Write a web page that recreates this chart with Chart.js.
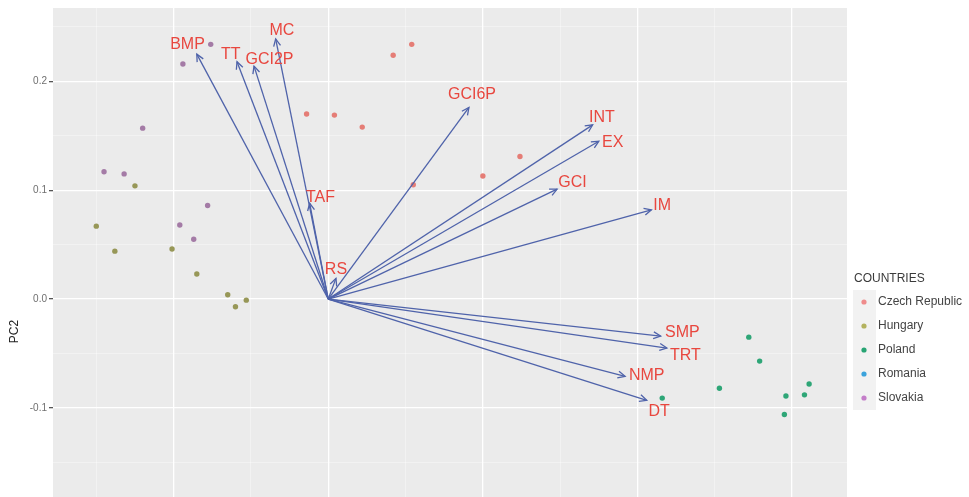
<!DOCTYPE html>
<html>
<head>
<meta charset="utf-8">
<script src="https://cdn.jsdelivr.net/npm/chart.js@4.4.1/dist/chart.umd.min.js"></script>
<style>
  body { margin: 0; background: #fff; }
  #wrap { width: 969px; height: 497px; overflow: hidden; }
</style>
</head>
<body>
<div id="wrap"><canvas id="chart" width="969" height="690"></canvas></div>
<script>
// countries (legend order) and their colours
const countries = ['Czech Republic', 'Hungary', 'Poland', 'Romania', 'Slovakia'];
const pointColors = ['#e57d76', '#979757', '#2ea677', '#2aa6d8', '#a47ba6'];
const keyColors = ['#ef8c8c', '#b3b25e', '#27a473', '#3ba3dc', '#c47ec9'];

// PC scores per country
const czechPC1 = [0.054, 0.042, -0.014, 0.004, 0.022, 0.124, 0.100, 0.055];
const czechPC2 = [0.234, 0.224, 0.170, 0.169, 0.158, 0.131, 0.113, 0.105];
const hungaryPC1 = [-0.125, -0.150, -0.138, -0.101, -0.085, -0.065, -0.053, -0.060];
const hungaryPC2 = [0.104, 0.067, 0.044, 0.046, 0.023, 0.004, -0.001, -0.007];
const polandPC1 = [0.272, 0.279, 0.253, 0.311, 0.308, 0.296, 0.295, 0.216];
const polandPC2 = [-0.035, -0.057, -0.082, -0.078, -0.088, -0.089, -0.106, -0.091];
const romaniaPC1 = [];
const romaniaPC2 = [];
const slovakiaPC1 = [-0.076, -0.094, -0.120, -0.145, -0.132, -0.078, -0.096, -0.087];
const slovakiaPC2 = [0.234, 0.216, 0.157, 0.117, 0.115, 0.086, 0.068, 0.055];

// variable loadings (arrow tips) and label positions
const varNames = ['BMP', 'TT', 'GCI2P', 'MC', 'TAF', 'RS', 'GCI6P', 'INT', 'EX', 'GCI', 'IM', 'SMP', 'TRT', 'NMP', 'DT'];
const loadPC1 = [-0.085, -0.059, -0.048, -0.034, -0.012, 0.005, 0.091, 0.171, 0.175, 0.148, 0.209, 0.215, 0.219, 0.192, 0.206];
const loadPC2 = [0.225, 0.218, 0.214, 0.239, 0.088, 0.019, 0.176, 0.160, 0.145, 0.101, 0.082, -0.034, -0.045, -0.071, -0.093];
const labelPC1 = [-0.091, -0.063, -0.038, -0.030, -0.005, 0.005, 0.093, 0.177, 0.184, 0.158, 0.216, 0.229, 0.231, 0.206, 0.214];
const labelPC2 = [0.234, 0.225, 0.220, 0.247, 0.093, 0.027, 0.188, 0.167, 0.144, 0.107, 0.086, -0.031, -0.052, -0.070, -0.103];

// axes
const xRange = [-0.178, 0.3355];
const yRange = [-0.327, 0.2674];
const xTicks = [-0.15, -0.1, -0.05, 0, 0.05, 0.1, 0.15, 0.2, 0.25, 0.3];
const yTicks = [-0.3, -0.25, -0.2, -0.15, -0.1, -0.05, 0, 0.05, 0.1, 0.15, 0.2, 0.25];

const arrowColor = '#4f63aa';
const labelColor = '#e8473f';

const isMajor = v => Math.abs(v * 10 - Math.round(v * 10)) < 1e-6;

const scores = [
  [czechPC1, czechPC2], [hungaryPC1, hungaryPC2], [polandPC1, polandPC2],
  [romaniaPC1, romaniaPC2], [slovakiaPC1, slovakiaPC2]
];

const pointSets = countries.map((name, i) => ({
  label: name,
  data: scores[i][0].map((x, j) => ({ x, y: scores[i][1][j] })),
  backgroundColor: pointColors[i],
  borderWidth: 0,
  pointRadius: 2.7,
  order: 1
}));

const arrowSets = varNames.map((name, i) => ({
  label: name,
  data: [{ x: 0, y: 0 }, { x: loadPC1[i], y: loadPC2[i] }],
  showLine: true,
  borderColor: arrowColor,
  borderWidth: 1.3,
  pointRadius: 0,
  order: 0
}));

// arrow heads and variable names
const biplotLayer = {
  id: 'biplotLayer',
  afterDatasetsDraw(chart) {
    const { ctx, scales: { x, y } } = chart;
    ctx.save();
    ctx.strokeStyle = arrowColor;
    ctx.lineWidth = 1.3;
    varNames.forEach((name, i) => {
      const x0 = x.getPixelForValue(0), y0 = y.getPixelForValue(0);
      const x1 = x.getPixelForValue(loadPC1[i]), y1 = y.getPixelForValue(loadPC2[i]);
      const ang = Math.atan2(y1 - y0, x1 - x0);
      const len = 8, spread = Math.PI / 7;
      ctx.beginPath();
      ctx.moveTo(x1 - len * Math.cos(ang - spread), y1 - len * Math.sin(ang - spread));
      ctx.lineTo(x1, y1);
      ctx.lineTo(x1 - len * Math.cos(ang + spread), y1 - len * Math.sin(ang + spread));
      ctx.stroke();
    });
    ctx.fillStyle = labelColor;
    ctx.font = '16px "Liberation Sans", Arial, sans-serif';
    ctx.textAlign = 'center';
    ctx.textBaseline = 'middle';
    varNames.forEach((name, i) => {
      ctx.fillText(name, x.getPixelForValue(labelPC1[i]), y.getPixelForValue(labelPC2[i]));
    });
    ctx.restore();
  }
};

// ggplot-like legend on the right
const countryLegend = {
  id: 'countryLegend',
  afterDraw(chart) {
    const { ctx, chartArea } = chart;
    const left = chartArea.right + 6;
    const mid = chart.height / 2;
    ctx.save();
    ctx.font = '12px "Liberation Sans", Arial, sans-serif';
    ctx.textBaseline = 'middle';
    ctx.textAlign = 'left';
    ctx.fillStyle = '#3a3a3a';
    ctx.fillText('COUNTRIES', left + 1, mid - 66);
    countries.forEach((name, i) => {
      const cy = mid - 43 + i * 24;
      ctx.fillStyle = '#f2f2f2';
      ctx.fillRect(left, cy - 12, 23, 24);
      ctx.fillStyle = keyColors[i];
      ctx.beginPath();
      ctx.arc(left + 11, cy, 2.6, 0, Math.PI * 2);
      ctx.fill();
      ctx.fillStyle = '#444';
      ctx.fillText(name, left + 25, cy);
    });
    ctx.restore();
  }
};

const panelBg = {
  id: 'panelBg',
  beforeDraw(chart) {
    const { ctx, chartArea: a } = chart;
    ctx.save();
    ctx.fillStyle = '#ebebeb';
    ctx.fillRect(a.left, a.top, a.right - a.left, a.bottom - a.top);
    ctx.restore();
  }
};

const gridOpts = {
  color: c => isMajor(c.tick.value) ? '#ffffff' : 'rgba(255,255,255,0.55)',
  lineWidth: c => isMajor(c.tick.value) ? 1.3 : 0.7,
  tickColor: c => isMajor(c.tick.value) ? '#555' : 'rgba(0,0,0,0)',
  tickLength: 4
};

new Chart(document.getElementById('chart'), {
  type: 'scatter',
  data: { datasets: [...arrowSets, ...pointSets] },
  options: {
    responsive: false,
    animation: false,
    events: [],
    layout: { padding: { top: 7, right: 122, left: 0, bottom: 0 } },
    plugins: { legend: { display: false }, tooltip: { enabled: false } },
    scales: {
      x: {
        type: 'linear',
        min: xRange[0],
        max: xRange[1],
        afterBuildTicks: s => { s.ticks = xTicks.map(v => ({ value: v })); },
        afterFit: s => { s.height = 35; },
        border: { display: false },
        grid: gridOpts,
        ticks: {
          autoSkip: false, maxRotation: 0, padding: 2,
          color: '#6f6f6f', font: { size: 10 },
          callback: v => isMajor(v) ? v.toFixed(1) : ''
        },
        title: { display: true, text: 'PC1', color: '#222', font: { size: 12 }, padding: 2 }
      },
      y: {
        type: 'linear',
        min: yRange[0],
        max: yRange[1],
        afterBuildTicks: s => { s.ticks = yTicks.map(v => ({ value: v })); },
        afterFit: s => { s.width = 53; },
        border: { display: false },
        grid: gridOpts,
        ticks: {
          autoSkip: false, padding: 2,
          color: '#6f6f6f', font: { size: 10 },
          callback: v => isMajor(v) ? v.toFixed(1) : ''
        },
        title: { display: true, text: 'PC2', color: '#222', font: { size: 12 }, padding: { top: 7, bottom: 0 } }
      }
    }
  },
  plugins: [panelBg, biplotLayer, countryLegend]
});
</script>
</body>
</html>
